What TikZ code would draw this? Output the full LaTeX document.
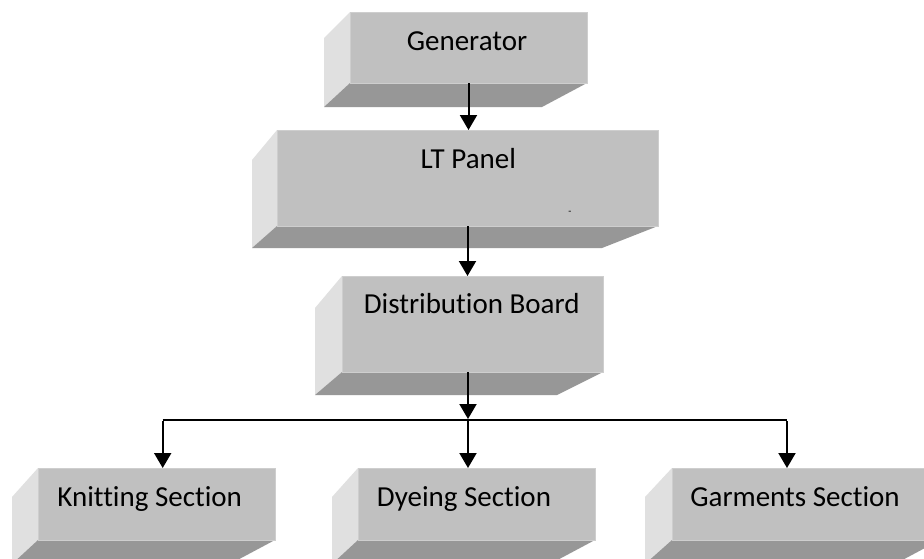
\documentclass[tikz,border=0pt]{standalone}
\usepackage{fontspec}
\setmainfont{Carlito}[Ligatures={NoCommon}]
\usetikzlibrary{arrows.meta}
\definecolor{frontc}{RGB}{192,192,192}
\definecolor{edgec}{RGB}{206,206,206}
\definecolor{leftc}{RGB}{224,224,224}
\definecolor{botc}{RGB}{151,151,151}
\tikzset{
  frontbox/.style={fill=frontc, draw=edgec, line width=0.8pt, inner sep=0pt, outer sep=0pt, anchor=north west},
  leftface/.style={fill=leftc},
  botface/.style={fill=botc},
  lbl/.style={font=\fontsize{29}{35}\selectfont, anchor=base, inner sep=0pt, text=black},
  wire/.style={line width=2pt, draw=black},
  conn/.style={wire, -{Triangle[width=17pt,length=15pt]}},
}
% #1 name, #2 x1, #3 y1, #4 x2, #5 y2, #6 d, #7 s, #8 h, #9 e
\newcommand{\mybevelbox}[9]{%
  \fill[leftface] (#2,#3) -- (#2,#5) -- ({#2-#6},{#5+#8}) -- ({#2-#6},{#3+#7}) -- cycle;
  \fill[botface] (#2,#5) -- (#4,#5) -- ({#4-#9},{#5+#8}) -- ({#2-#6},{#5+#8}) -- cycle;
  \node[frontbox, minimum width={#4pt-#2pt}, minimum height={#5pt-#3pt}] (#1) at (#2,#3) {};
}
\begin{document}
\begin{tikzpicture}[x=1pt,y=-1pt]
\useasboundingbox (0,0) rectangle (924,558);
\clip (0,0) rectangle (924,558);
\fill[white] (0,0) rectangle (924,558);

\mybevelbox{gen}{350}{12}{587}{83}{26}{26}{24}{45}
\mybevelbox{lt}{277}{130}{658}{226}{25}{30}{22}{56}
\mybevelbox{db}{342}{276}{603}{372}{27}{32}{23}{46}
\mybevelbox{knit}{38}{468}{275}{540}{26}{29}{24}{45}
\mybevelbox{dye}{358}{468}{595}{540}{26}{29}{24}{45}
\mybevelbox{garm}{672}{468}{940}{540}{27}{29}{24}{45}

\node[lbl] (gen-t) at (467,50) {Generator};
\node[lbl] (lt-t) at (468.3,168) {LT Panel};
\node[lbl] (db-t) at (471.7,313) {Distribution Board};
\node[lbl] (knit-t) at (149.7,506) {Knitting Section};
\node[lbl] (dye-t) at (464,506) {Dyeing Section};
\node[lbl] (garm-t) at (795,506) {Garments Section};
\node[font=\fontsize{10}{12}\selectfont, inner sep=0pt] (dash) at (570,213) {-};

\coordinate (bus) at (468,420);
\coordinate (busL) at (162.7,420);
\coordinate (busR) at (787,420);

\draw[conn] (gen.south) -- (gen.south |- lt.north);
\draw[conn] (lt.south) -- (lt.south |- db.north);
\draw[conn] (bus |- db.south) -- ([yshift=1pt]bus);
\draw[wire] (busL) -- (busR);
\draw[conn] ([yshift=-1pt]busL) -- (busL |- knit.north);
\draw[conn] (bus) -- (bus |- dye.north);
\draw[conn] ([yshift=-1pt]busR) -- (busR |- garm.north);
\end{tikzpicture}
\end{document}
